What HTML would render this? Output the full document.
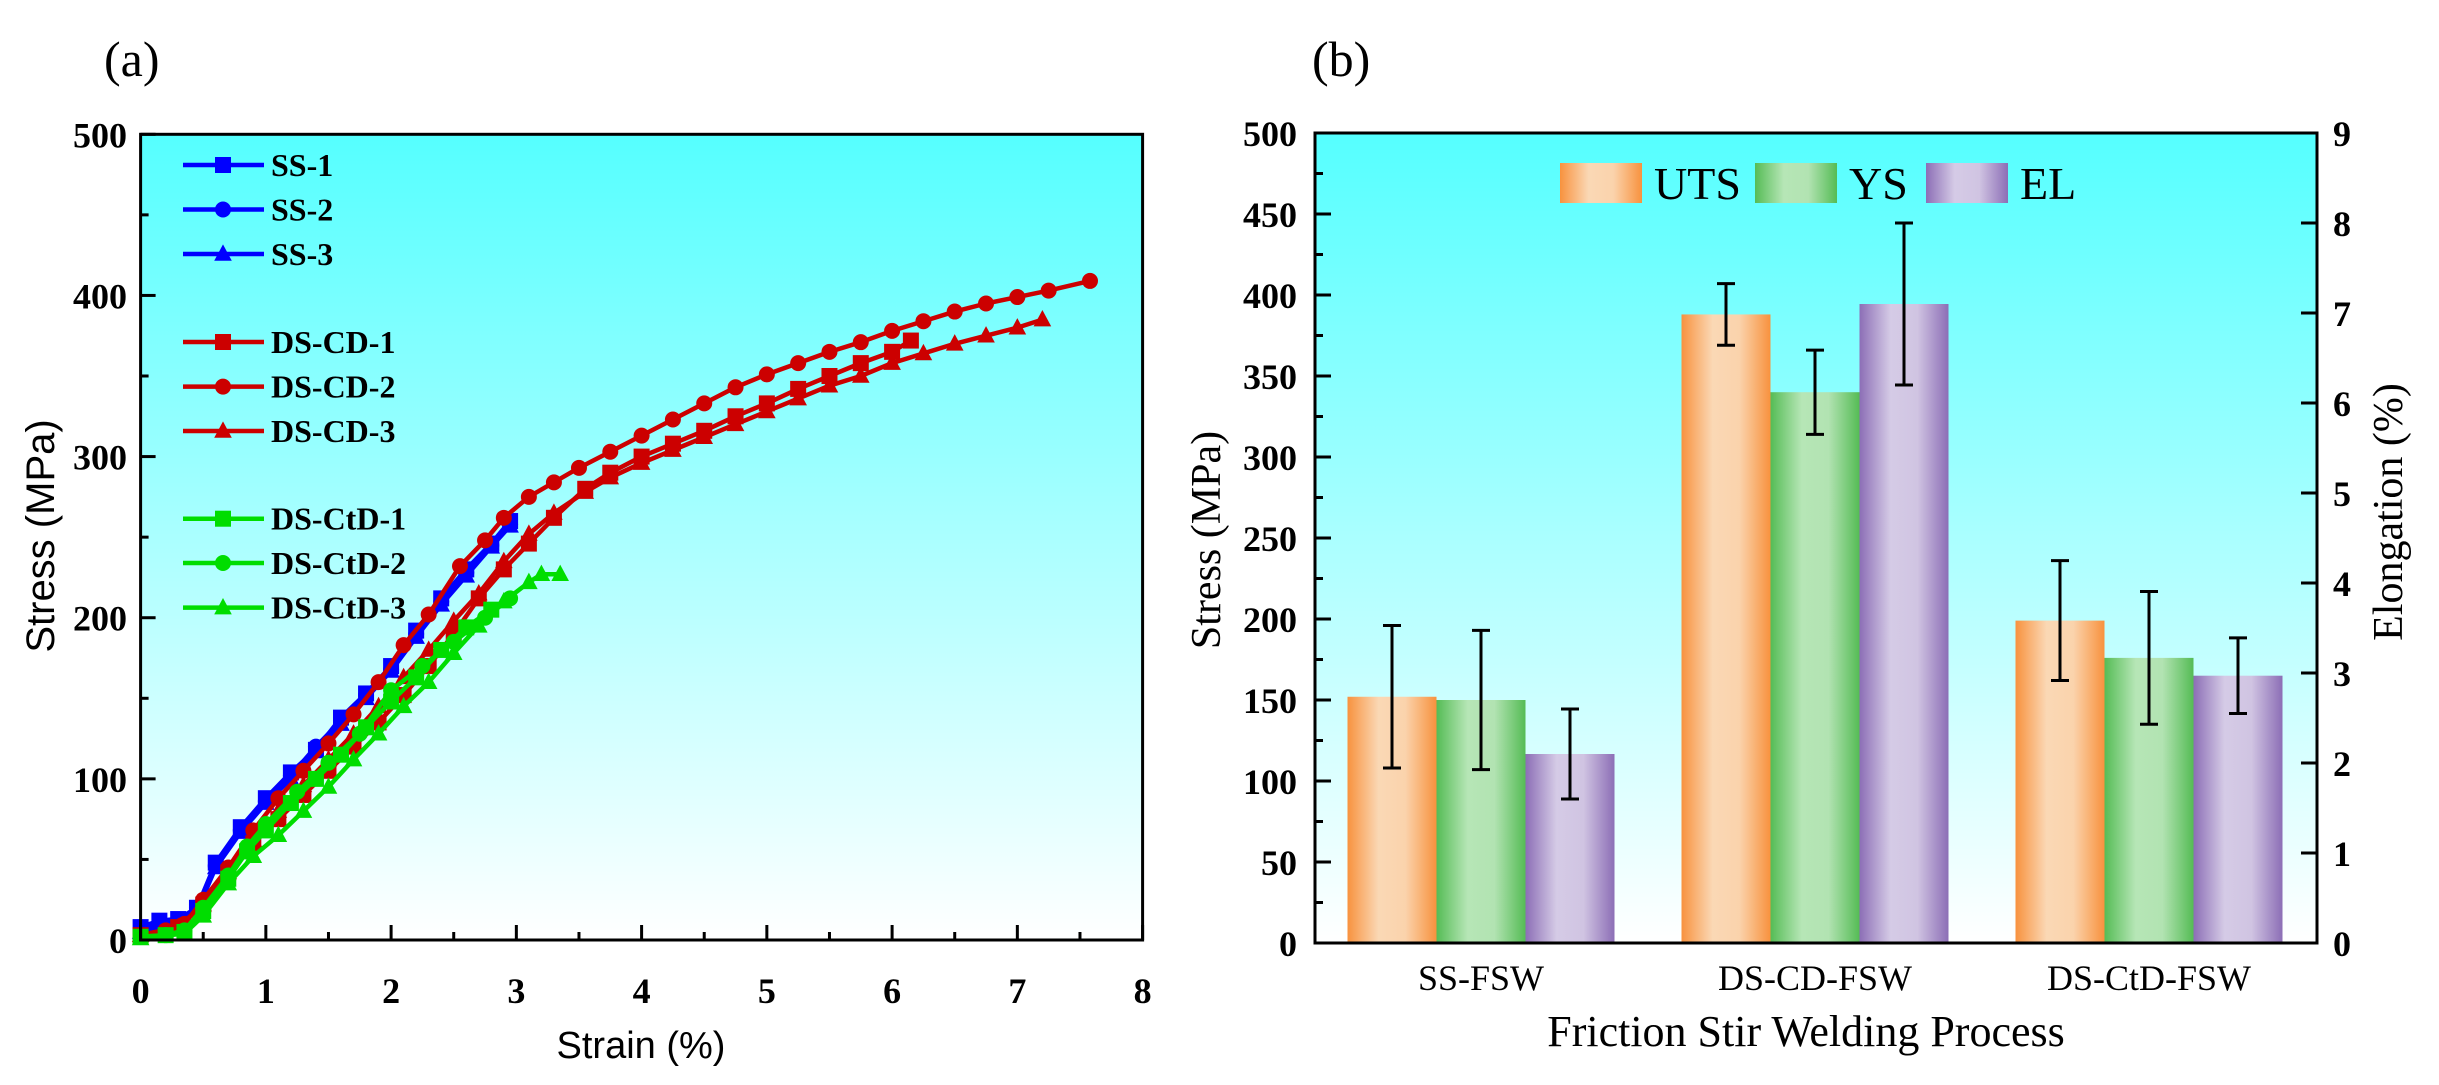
<!DOCTYPE html>
<html><head><meta charset="utf-8"><style>
html,body{margin:0;padding:0;background:#fff;}
svg{display:block;}
</style></head><body>
<svg id="fig" width="2439" height="1085" viewBox="0 0 2439 1085" xmlns="http://www.w3.org/2000/svg" font-family="Liberation Serif, serif">
<defs>
<linearGradient id="bgGrad" x1="0" y1="0" x2="0" y2="1">
<stop offset="0" stop-color="#55FFFF"/><stop offset="1" stop-color="#FFFFFF"/></linearGradient>
<linearGradient id="gUTS" x1="0" y1="0" x2="1" y2="0">
<stop offset="0" stop-color="#F8923E"/><stop offset="0.35" stop-color="#FAD8B5"/><stop offset="0.65" stop-color="#FAD3AC"/><stop offset="1" stop-color="#F8923E"/></linearGradient>
<linearGradient id="gYS" x1="0" y1="0" x2="1" y2="0">
<stop offset="0" stop-color="#55BC55"/><stop offset="0.35" stop-color="#B6E6B6"/><stop offset="0.65" stop-color="#B2E3B2"/><stop offset="1" stop-color="#55BC55"/></linearGradient>
<linearGradient id="gEL" x1="0" y1="0" x2="1" y2="0">
<stop offset="0" stop-color="#8C6EB6"/><stop offset="0.35" stop-color="#D5CBE6"/><stop offset="0.65" stop-color="#D0C4E2"/><stop offset="1" stop-color="#8C6EB6"/></linearGradient>
</defs>
<text x="104" y="76" font-size="50">(a)</text>
<text x="1312" y="76" font-size="50">(b)</text>
<g id="chartA"></g>
<g id="chartB"></g>
</svg>
<script>
const NS="http://www.w3.org/2000/svg";
function mk(tag,attrs,parent,txt){const e=document.createElementNS(NS,tag);for(const k in attrs)e.setAttribute(k,attrs[k]);if(txt!==undefined)e.textContent=txt;parent.appendChild(e);return e;}

// ===== Chart A data =====
const seriesNames=["SS-1","SS-2","SS-3","DS-CD-1","DS-CD-2","DS-CD-3","DS-CtD-1","DS-CtD-2","DS-CtD-3"];
const seriesColors=["#0000FF","#0000FF","#0000FF","#CC0000","#CC0000","#CC0000","#00DD00","#00DD00","#00DD00"];
const seriesMarkers=["square","circle","triangle","square","circle","triangle","square","circle","triangle"];
const ss1X=[0,0.15,0.3,0.45,0.6,0.8,1.0,1.2,1.4,1.6,1.8,2.0,2.2,2.4,2.6,2.8,2.95];
const ss1Y=[8,12,13,20,48,70,88,104,118,138,153,170,192,212,230,246,260];
const ss2X=[0,0.15,0.3,0.45,0.6,0.8,1.0,1.2,1.4,1.6,1.8,2.0,2.2,2.4,2.6,2.8,2.95];
const ss2Y=[6,10,12,20,46,68,86,102,120,136,152,168,190,210,228,245,258];
const ss3X=[0,0.15,0.3,0.45,0.6,0.8,1.0,1.2,1.4,1.6,1.8,2.0,2.2,2.4,2.6,2.8,2.95];
const ss3Y=[5,9,11,18,45,67,85,100,117,134,150,167,188,208,226,244,257];
const cd1X=[0,0.3,0.5,0.7,0.9,1.1,1.3,1.5,1.7,1.9,2.1,2.3,2.5,2.7,2.9,3.1,3.3,3.55,3.75,4.0,4.25,4.5,4.75,5.0,5.25,5.5,5.75,6.0,6.15];
const cd1Y=[3,8,22,42,60,75,90,105,120,135,152,170,190,212,230,246,262,280,290,300,308,316,325,333,342,350,358,365,372];
const cd2X=[0,0.2,0.35,0.5,0.7,0.9,1.1,1.3,1.5,1.7,1.9,2.1,2.3,2.55,2.75,2.9,3.1,3.3,3.5,3.75,4.0,4.25,4.5,4.75,5.0,5.25,5.5,5.75,6.0,6.25,6.5,6.75,7.0,7.25,7.58];
const cd2Y=[3,6,10,25,45,68,88,105,122,140,160,183,202,232,248,262,275,284,293,303,313,323,333,343,351,358,365,371,378,384,390,395,399,403,409];
const cd3X=[0,0.3,0.5,0.7,0.9,1.1,1.3,1.5,1.7,1.9,2.1,2.3,2.5,2.7,2.9,3.1,3.3,3.55,3.75,4.0,4.25,4.5,4.75,5.0,5.25,5.5,5.75,6.0,6.25,6.5,6.75,7.0,7.2];
const cd3Y=[3,8,22,42,62,80,96,112,128,145,163,180,198,215,235,252,265,278,287,296,304,312,320,328,336,344,350,358,364,370,375,380,385];
const ctd1X=[0,0.2,0.35,0.5,0.7,0.85,1.0,1.2,1.4,1.6,1.8,2.0,2.2,2.4,2.6,2.8];
const ctd1Y=[2,3,5,18,38,55,68,85,100,115,132,148,163,180,194,205];
const ctd2X=[0,0.2,0.35,0.5,0.7,0.85,1.0,1.25,1.5,1.75,2.0,2.25,2.5,2.75,2.95];
const ctd2Y=[2,3,6,20,40,58,72,92,110,128,155,170,185,200,212];
const ctd3X=[0,0.35,0.5,0.7,0.9,1.1,1.3,1.5,1.7,1.9,2.1,2.3,2.5,2.7,2.9,3.1,3.2,3.35];
const ctd3Y=[1,4,15,35,52,65,80,95,112,128,145,160,178,195,210,222,227,227];
const allX=[ss1X,ss2X,ss3X,cd1X,cd2X,cd3X,ctd1X,ctd2X,ctd3X];
const allY=[ss1Y,ss2Y,ss3Y,cd1Y,cd2Y,cd3Y,ctd1Y,ctd2Y,ctd3Y];
const xTicksA=[0,1,2,3,4,5,6,7,8];
const yTicksA=[0,100,200,300,400,500];

// ===== Chart B data =====
const categories=["SS-FSW","DS-CD-FSW","DS-CtD-FSW"];
const utsVals=[152,388,199];
const utsErr=[44,19,37];
const ysVals=[150,340,176];
const ysErr=[43,26,41];
const elVals=[2.1,7.1,2.97];
const elErr=[0.5,0.9,0.42];
const yTicksB=[0,50,100,150,200,250,300,350,400,450,500];
const yTicksElong=[0,1,2,3,4,5,6,7,8,9];

function drawMarker(p,type,x,y,c,r){
 if(type==='square')mk('rect',{x:x-r,y:y-r,width:2*r,height:2*r,fill:c},p);
 else if(type==='circle')mk('circle',{cx:x,cy:y,r:r,fill:c},p);
 else mk('polygon',{points:`${x},${y-r*1.2} ${x-r*1.1},${y+r*0.85} ${x+r*1.1},${y+r*0.85}`,fill:c},p);
}

// ----- Chart A -----
(function(){
const g=document.getElementById('chartA');
const L=140.6,R=1142.6,T=134.3,B=940;
const xS=v=>L+(v/8)*(R-L), yS=v=>B-(v/500)*(B-T);
const bg=mk('rect',{x:L,y:T,width:R-L,height:B-T,fill:'url(#bgGrad)'},g);


const order=[0,1,2,3,5,4,6,7,8];
order.forEach(i=>{
 const sg=mk('g',{},g);
 
 
 const pts=allX[i].map((x,k)=>xS(x)+','+yS(allY[i][k])).join(' ');
 mk('polyline',{points:pts,fill:'none',stroke:seriesColors[i],'stroke-width':4.5,'stroke-linejoin':'round'},sg);
 allX[i].forEach((x,k)=>drawMarker(sg,seriesMarkers[i],xS(x),yS(allY[i][k]),seriesColors[i],8));
});
mk('rect',{x:L,y:T,width:R-L,height:B-T,fill:'none',stroke:'#000','stroke-width':3},g);
for(let v=0;v<=8;v+=0.5){const maj=Number.isInteger(v);mk('line',{x1:xS(v),x2:xS(v),y1:B,y2:B-(maj?15:8),stroke:'#000','stroke-width':3},g);}
xTicksA.forEach(v=>{const t=mk('text',{x:xS(v),y:1003,'font-size':36,'font-weight':'bold','text-anchor':'middle'},g,String(v));
 });
for(let v=0;v<=500;v+=50){const maj=v%100===0;mk('line',{x1:L,x2:L+(maj?15:8),y1:yS(v),y2:yS(v),stroke:'#000','stroke-width':3},g);}
yTicksA.forEach(v=>{const t=mk('text',{x:127,y:yS(v)+13,'font-size':36,'font-weight':'bold','text-anchor':'end'},g,String(v));
 });
const xt=mk('text',{x:641,y:1058,'font-size':38,'text-anchor':'middle','font-family':'Liberation Sans, sans-serif'},g,'Strain (%)');

const yt=mk('text',{x:0,y:0,'font-size':40,'text-anchor':'middle','font-family':'Liberation Sans, sans-serif',transform:'translate(54,536) rotate(-90)'},g,'Stress (MPa)');

const legY=[165,209.5,254,342,386.6,431,518.7,563,607.6];
seriesNames.forEach((n,i)=>{
 const lg=mk('g',{},g);
 
 
 mk('line',{x1:183,x2:264,y1:legY[i],y2:legY[i],stroke:seriesColors[i],'stroke-width':4.5},lg);
 drawMarker(lg,seriesMarkers[i],223,legY[i],seriesColors[i],8);
 mk('text',{x:271,y:legY[i]+11,'font-size':32,'font-weight':'bold'},lg,n);
});
})();

// ----- Chart B -----
(function(){
const g=document.getElementById('chartB');
const L=1315,R=2317,T=133,B=943;
const yS=v=>B-(v/500)*(B-T), eS=v=>B-(v/9)*(B-T);
const bg=mk('rect',{x:L,y:T,width:R-L,height:B-T,fill:'url(#bgGrad)'},g);


const groupW=(R-L)/3, bw=89;
const cx=i=>L+groupW*(i+0.5)-1;
categories.forEach((c,i)=>{
 const x0=cx(i)-1.5*bw;
 const defs=[[utsVals[i],utsErr[i],yS,'gUTS','bar-uts'],[ysVals[i],ysErr[i],yS,'gYS','bar-ys'],[elVals[i],elErr[i],eS,'gEL','bar-el']];
 defs.forEach((d,j)=>{
  const [v,e,sc,fill,name]=d;
  const bx=x0+j*bw, top=sc(v);
  const r=mk('rect',{x:bx,y:top,width:bw,height:B-top,fill:'url(#'+fill+')'},g);
  
  
  const mx=bx+bw/2, y1=sc(v+e), y2=sc(v-e);
  const eg=mk('g',{stroke:'#000','stroke-width':3},g);
  
  
  mk('line',{x1:mx,x2:mx,y1:y1,y2:y2},eg);
  mk('line',{x1:mx-9,x2:mx+9,y1:y1,y2:y1},eg);
  mk('line',{x1:mx-9,x2:mx+9,y1:y2,y2:y2},eg);
 });
 const t=mk('text',{x:cx(i),y:990,'font-size':36,'text-anchor':'middle'},g,c);
 
});
mk('rect',{x:L,y:T,width:R-L,height:B-T,fill:'none',stroke:'#000','stroke-width':3},g);
for(let v=0;v<=500;v+=25){const maj=v%50===0;mk('line',{x1:L,x2:L+(maj?16:8),y1:yS(v),y2:yS(v),stroke:'#000','stroke-width':3},g);}
yTicksB.forEach(v=>{const t=mk('text',{x:1297,y:yS(v)+13,'font-size':36,'font-weight':'bold','text-anchor':'end'},g,String(v));
 });
yTicksElong.forEach(v=>{mk('line',{x1:R,x2:R-16,y1:eS(v),y2:eS(v),stroke:'#000','stroke-width':3},g);
 const t=mk('text',{x:2333,y:eS(v)+13,'font-size':36,'font-weight':'bold'},g,String(v));
 });
const xt=mk('text',{x:1806,y:1046,'font-size':44,'text-anchor':'middle'},g,'Friction Stir Welding Process');

const yt=mk('text',{x:0,y:0,'font-size':42,'text-anchor':'middle',transform:'translate(1220,540) rotate(-90)'},g,'Stress (MPa)');

const y2t=mk('text',{x:0,y:0,'font-size':42,'text-anchor':'middle',transform:'translate(2402,512) rotate(-90)'},g,'Elongation (%)');

const leg=[[1560,'gUTS','UTS'],[1755,'gYS','YS'],[1926,'gEL','EL']];
leg.forEach(l=>{
 const lg=mk('g',{},g);
 
 
 mk('rect',{x:l[0],y:163,width:82,height:40,fill:'url(#'+l[1]+')'},lg);
 mk('text',{x:l[0]+94,y:199,'font-size':46},lg,l[2]);
});
})();
</script>
</body></html>
